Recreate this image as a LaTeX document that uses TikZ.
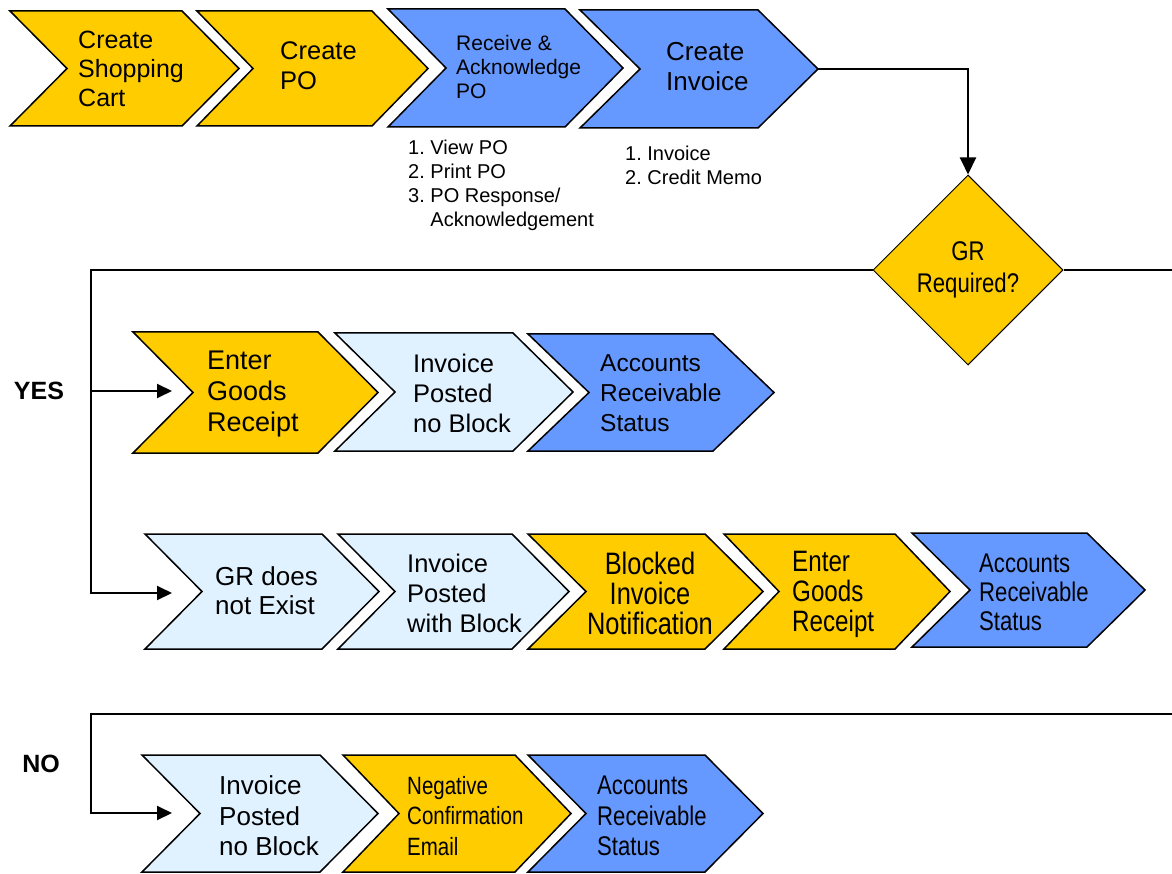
\documentclass[tikz,border=0pt]{standalone}
\usepackage{fontspec}
\setmainfont{Liberation Sans}
\newfontfamily\narrowsans[FakeStretch=0.82]{Liberation Sans}
\usetikzlibrary{arrows.meta,shapes.geometric}
\definecolor{gold}{HTML}{FFCC00}
\definecolor{stepblue}{HTML}{6699FF}
\definecolor{paleblue}{HTML}{E0F2FF}
\newcommand\mkchev[7]{%
  \path[chev, fill=#2] (#3,#4) -- (#5,#4) -- ({#5+#7},{(#4+#6)/2}) -- (#5,#6) -- (#3,#6) -- ({#3+#7},{(#4+#6)/2}) -- cycle;
  \coordinate (#1-in) at ({#3+#7},{(#4+#6)/2});
  \coordinate (#1-tip) at ({#5+#7},{(#4+#6)/2});
}
\tikzset{
  chev/.style={draw=black, line width=1.5pt, line join=miter},
  lbl/.style={anchor=west, align=left, inner sep=0pt, text=black},
  clbl/.style={anchor=center, align=center, inner sep=0pt, text=black},
  conn/.style={line width=2pt, line join=miter},
  arr/.style={conn, -{Triangle[length=15pt,width=14pt]}},
  bigarr/.style={conn, -{Triangle[length=17pt,width=16pt]}},
}
\begin{document}
\begin{tikzpicture}[x=1pt,y=-1pt]
\useasboundingbox (0,0) rectangle (1172,874);
% ---- top row
\mkchev{cart}{gold}{10}{11}{182}{126}{57}
\mkchev{po}{gold}{197}{11}{372}{126}{56}
\mkchev{rec}{stepblue}{388}{9}{565}{127}{58}
\mkchev{inv}{stepblue}{580}{10}{758}{128}{60}
\node (tcart) [lbl, font=\fontsize{25}{29}\selectfont] at (78,69) {Create\\Shopping\\Cart};
\node (tpo) [lbl, font=\fontsize{25.5}{30}\selectfont] at (280,66) {Create\\PO};
\node (trec) [lbl, font=\fontsize{21}{24}\selectfont] at (456,67) {Receive \&\\Acknowledge\\PO};
\node (tinv) [lbl, font=\fontsize{26}{30}\selectfont] at (666,67) {Create\\Invoice};
\node (nrec) [lbl, font=\fontsize{20}{24}\selectfont] at (408,185) {1.\ View PO\\2.\ Print PO\\3.\ PO Response/\\\hphantom{3.\ }Acknowledgement};
\node (ninv) [lbl, font=\fontsize{20}{24}\selectfont] at (625,165) {1.\ Invoice\\2.\ Credit Memo};
% ---- decision
\node (gr) [diamond, draw=black, line width=1pt, fill=gold, aspect=1, minimum width=190pt, minimum height=190pt, inner sep=0pt, align=center, font=\narrowsans\fontsize{27}{32}\selectfont] at (968,270) {GR\\Required?};
% ---- YES row 1
\mkchev{egra}{gold}{133}{332}{318}{453}{60}
\mkchev{ipnba}{paleblue}{335}{333}{513}{451}{60}
\mkchev{ara}{stepblue}{528}{334}{713}{451}{61}
\node (tegra) [lbl, font=\fontsize{27}{31}\selectfont] at (207,394) {Enter\\Goods\\Receipt};
\node (tipnba) [lbl, font=\fontsize{25.5}{30}\selectfont] at (413,393) {Invoice\\Posted\\no Block};
\node (tara) [lbl, font=\fontsize{24.5}{30}\selectfont] at (600,393) {Accounts\\Receivable\\Status};
% ---- YES row 2
\mkchev{grd}{paleblue}{145}{534}{322}{649}{57}
\mkchev{ipwb}{paleblue}{338}{534}{512}{649}{57}
\mkchev{blk}{gold}{528}{534}{705}{649}{58}
\mkchev{egrb}{gold}{724}{534}{895}{649}{55}
\mkchev{arb}{stepblue}{912}{533}{1087}{647}{58}
\node (tgrd) [lbl, font=\fontsize{26}{29}\selectfont] at (215,591) {GR does\\not Exist};
\node (tipwb) [lbl, font=\fontsize{25.5}{30}\selectfont] at (407,593) {Invoice\\Posted\\with Block};
\node (tblk) [clbl, font=\narrowsans\fontsize{31}{30}\selectfont] at (650,593) {Blocked\\Invoice\\Notification};
\node (tegrb) [lbl, font=\narrowsans\fontsize{29.5}{30}\selectfont] at (792,594) {Enter\\Goods\\Receipt};
\node (tarb) [lbl, font=\narrowsans\fontsize{27}{29}\selectfont] at (979,592) {Accounts\\Receivable\\Status};
% ---- NO row
\mkchev{ipnbc}{paleblue}{142}{755}{320}{872}{58}
\mkchev{neg}{gold}{343}{755}{515}{872}{56}
\mkchev{arc}{stepblue}{528}{755}{705}{872}{58}
\node (tipnbc) [lbl, font=\fontsize{26}{30.5}\selectfont] at (219,816) {Invoice\\Posted\\no Block};
\node (tneg) [lbl, font=\narrowsans\fontsize{25}{30.5}\selectfont] at (407,816) {Negative\\Confirmation\\Email};
\node (tarc) [lbl, font=\narrowsans\fontsize{27}{30.5}\selectfont] at (597,816) {Accounts\\Receivable\\Status};
% ---- labels
\node (yes) [clbl, font=\bfseries\fontsize{25}{30}\selectfont] at (39,391) {YES};
\node (no) [clbl, font=\bfseries\fontsize{25}{30}\selectfont] at (41,764) {NO};
% ---- connector points
\coordinate (cL) at (91,270);
\coordinate (cY1) at (91,391);
\coordinate (cY2) at (91,593);
\coordinate (aY1) at (172,391);
\coordinate (aY2) at (172,593);
\coordinate (cR) at (1172,270);
\coordinate (nR) at (1172,714);
\coordinate (nL) at (91,714);
\coordinate (nB) at (91,813);
\coordinate (aN) at (172,813);
% ---- connectors
\draw[bigarr] (inv-tip) -| (gr.north);
\draw[arr] (gr.west) -- (cL) -- (cY2) -- (aY2);
\draw[arr] (cY1) -- (aY1);
\draw[conn] (gr.east) -- (cR);
\draw[arr] (nR) -- (nL) -- (nB) -- (aN);
\end{tikzpicture}
\end{document}
